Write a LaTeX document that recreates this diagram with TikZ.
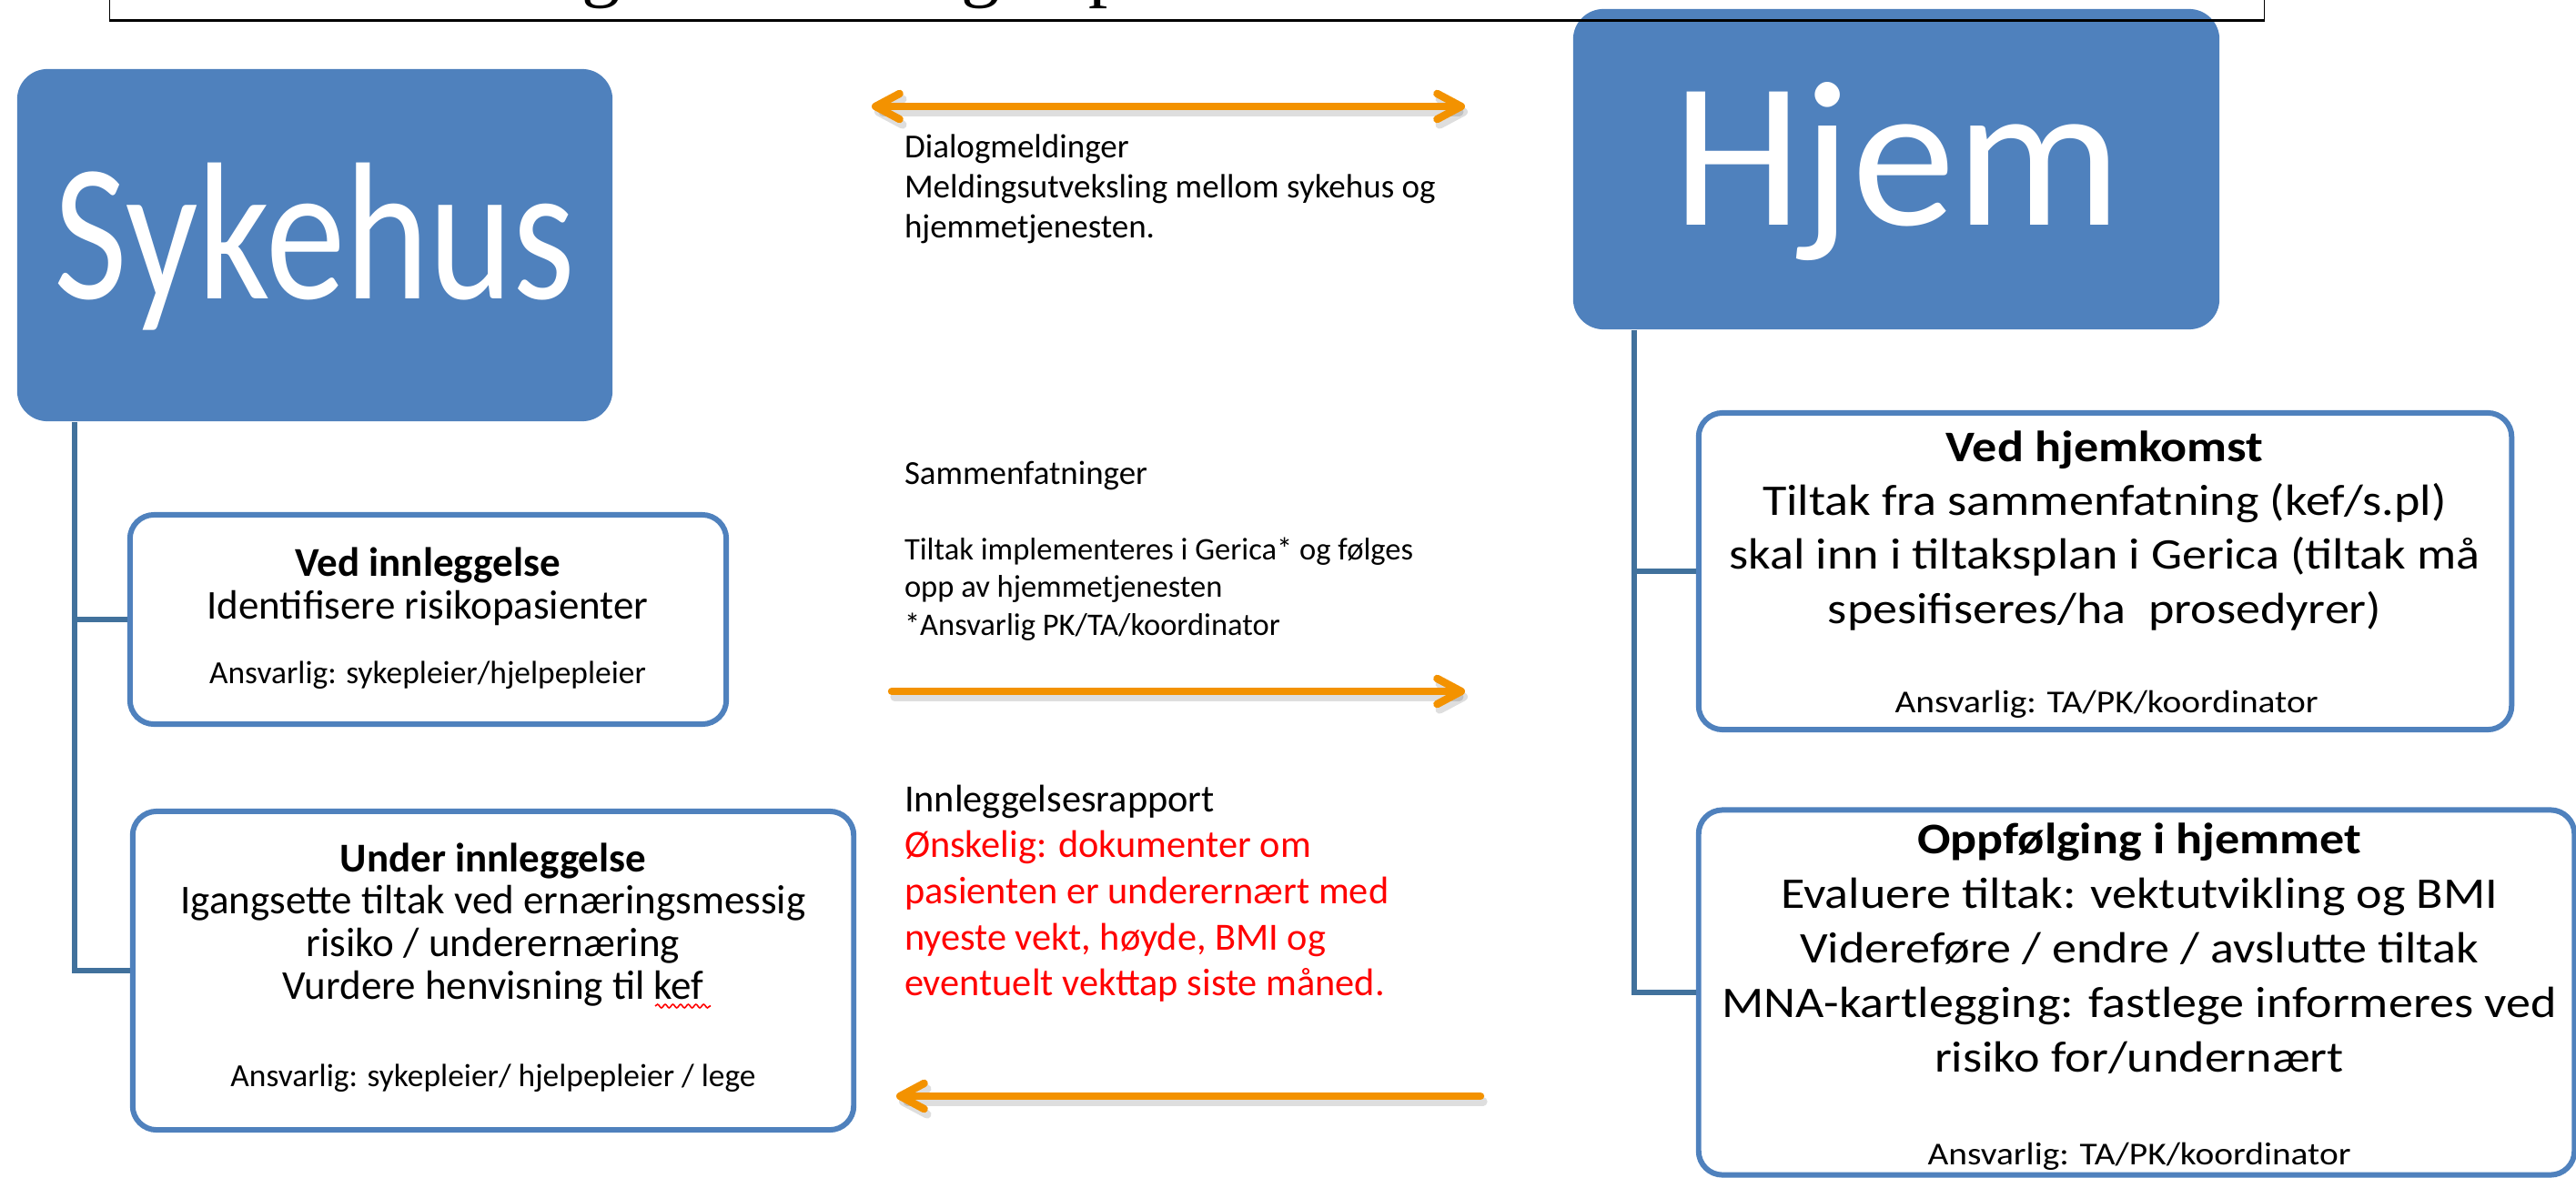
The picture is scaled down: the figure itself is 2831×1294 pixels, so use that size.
\documentclass[tikz,border=0pt]{standalone}
\usepackage{graphicx}
\usepackage{fontspec}
\setmainfont{Carlito}
\newfontfamily\widefont{Carlito}[FakeStretch=1.125]
\newfontfamily\titleserif{Liberation Serif}
\usetikzlibrary{arrows.meta,calc,decorations.pathmorphing}
\definecolor{boxblue}{HTML}{4F81BD}
\definecolor{connblue}{HTML}{41719C}
\definecolor{arrorange}{HTML}{F39200}
\newcommand\fs[2]{\fontsize{#1pt}{#2pt}\selectfont}
\newcommand\centerlines[1]{\vtop{\lineskiplimit=-\maxdimen\halign{\hfil##\hfil\cr#1\crcr}}}
\newcommand\leftlines[1]{\vtop{\lineskiplimit=-\maxdimen\halign{##\hfil\cr#1\crcr}}}
\begin{document}
\begin{tikzpicture}[x=0.01cm,y=-0.01cm,
  bluebox/.style={fill=boxblue, draw=none, rounded corners=9.5pt, inner sep=0},
  framebox/.style={draw=boxblue, line width=1.7pt, fill=white, rounded corners=7.5pt, inner sep=0},
  conn/.style={draw=connblue, line width=1.7pt},
  txt/.style={inner sep=0, outer sep=0},
  orbarb/.tip={Straight Barb[length=7.5pt,width=8pt,round]},
  orarrow/.style={draw=arrorange, line width=2.4pt, line cap=round},
  orshadow/.style={draw=black, opacity=0.13, line width=2.6pt, line cap=round},
]
\useasboundingbox (0,0) rectangle (2831,1294);

% main blue boxes
\node[bluebox, minimum width=6.54cm, minimum height=3.87cm] (syk) at (346,269.5) {};
\node[bluebox, minimum width=7.10cm, minimum height=3.52cm] (hjem) at (2084,186) {};
\node[txt, anchor=base, text=white] (sykt) at (346,328) {\fs{61.2}{70}\scalebox{0.815}[1]{Sykehus}};
\node[txt, anchor=base, text=white] (hjemt) at (2085,248) {\fs{64.9}{75}Hjem};

% title box (cut off at the top)
\node[draw, line width=0.35pt, minimum width=23.67cm, minimum height=2.22cm, inner sep=0] (titlebox) at (1304.5,-89) {};
\draw[line width=0.75pt] (titlebox.south west) -- (titlebox.south east);
\node[txt, anchor=base, font=\titleserif\fs{24.2}{28}] (tg1) at (661,-8) {g};
\node[txt, anchor=base, font=\titleserif\fs{24.2}{28}] (tg2) at (1078,-8) {g};
\node[txt, anchor=base, font=\titleserif\fs{24.2}{28}] (tp) at (1218,-8) {p};

% framed boxes
\node[framebox, minimum width=6.55cm, minimum height=2.30cm] (ved) at (470.5,681) {};
\node[framebox, minimum width=7.92cm, minimum height=3.50cm] (under) at (542,1067) {};
\node[framebox, minimum width=8.93cm, minimum height=3.48cm] (hjk) at (2313.5,628) {};
\node[framebox, minimum width=9.62cm, minimum height=4.01cm] (opp) at (2348,1091) {};

% connectors
\coordinate (lroot) at ($(syk.south west)+(64,0)$);
\coordinate (rroot) at ($(hjem.south west)+(68,0)$);
\draw[conn] (lroot) |- (ved.west);
\draw[conn] (lroot) |- (under.west);
\draw[conn] (rroot) |- (hjk.west);
\draw[conn] (rroot) |- (opp.west);

% box texts (left)
\node[txt, anchor=base] (vedt) at (470,633) {\fs{12.8}{13.37}\centerlines{\textbf{Ved innleggelse}\cr Identifisere risikopasienter}};
\node[txt, anchor=base] (veda) at (470,751) {\fs{10.07}{12}Ansvarlig: sykepleier/hjelpepleier};

\node[txt, anchor=base] (undt) at (542,958) {\fs{12.8}{13.3}\centerlines{\textbf{Under innleggelse}\cr Igangsette tiltak ved ernæringsmessig\cr risiko / underernæring\cr Vurdere henvisning til kef}};
\node[txt, anchor=base] (unda) at (542,1194) {\fs{10.07}{12}Ansvarlig: sykepleier/ hjelpepleier / lege};
\coordinate (sq1) at (720,1106);
\coordinate (sq2) at (781,1106);
\draw[red, line width=0.45pt, decorate, decoration={snake, amplitude=0.55pt, segment length=2.4pt}] (sq1) -- (sq2);

% box texts (right)
\node[txt, anchor=base] (hjkt) at (2313,507) {\widefont\fs{13.66}{16.9}\centerlines{\textbf{Ved hjemkomst}\cr Tiltak fra sammenfatning (kef/s.pl)\cr skal inn i tiltaksplan i Gerica (tiltak må\cr spesifiseres/ha\ \ prosedyrer)}};
\node[txt, anchor=base] (hjka) at (2315,783) {\widefont\fs{9.96}{12}Ansvarlig: TA/PK/koordinator};

\node[txt, anchor=base] (oppt) at (2351,938) {\widefont\fs{13.66}{17.1}\centerlines{\textbf{Oppfølging i hjemmet}\cr Evaluere tiltak: vektutvikling og BMI\cr Videreføre / endre / avslutte tiltak\cr MNA-kartlegging: fastlege informeres ved\cr risiko for/undernært}};
\node[txt, anchor=base] (oppa) at (2351,1280) {\widefont\fs{9.96}{12}Ansvarlig: TA/PK/koordinator};

% middle texts
\node[txt, anchor=base west] (dialog) at (994,174) {\fs{10.53}{12.41}\leftlines{Dialogmeldinger\cr Meldingsutveksling mellom sykehus og\cr hjemmetjenesten.}};
\node[txt, anchor=base west] (samm) at (994,532) {\fs{10.5}{12}Sammenfatninger};
\node[txt, anchor=base west] (tiltak) at (994,615) {\fs{9.82}{11.81}\leftlines{Tiltak implementeres i Gerica* og følges\cr opp av hjemmetjenesten\cr *Ansvarlig PK/TA/koordinator}};
\node[txt, anchor=base west] (innl) at (994,892) {\fs{12.04}{14.43}\leftlines{Innleggelsesrapport\cr \textcolor{red}{Ønskelig: dokumenter om}\cr \textcolor{red}{pasienten er underernært med}\cr \textcolor{red}{nyeste vekt, høyde, BMI og}\cr \textcolor{red}{eventuelt vekttap siste måned.}}};

% orange arrows
\coordinate (a1l) at (958,117);
\coordinate (a1r) at (1610,117);
\coordinate (a2l) at (980,760);
\coordinate (a2r) at (1610,760);
\coordinate (a3r) at (1627,1205);
\coordinate (a3l) at (985,1205);
\draw[orshadow, orbarb-orbarb] ($(a1l)+(3,6)$) -- ($(a1r)+(3,6)$);
\draw[orshadow, -orbarb] ($(a2l)+(3,6)$) -- ($(a2r)+(3,6)$);
\draw[orshadow, -orbarb] ($(a3r)+(3,6)$) -- ($(a3l)+(3,6)$);
\draw[orarrow, orbarb-orbarb] (a1l) -- (a1r);
\draw[orarrow, -orbarb] (a2l) -- (a2r);
\draw[orarrow, -orbarb] (a3r) -- (a3l);
\end{tikzpicture}
\end{document}
